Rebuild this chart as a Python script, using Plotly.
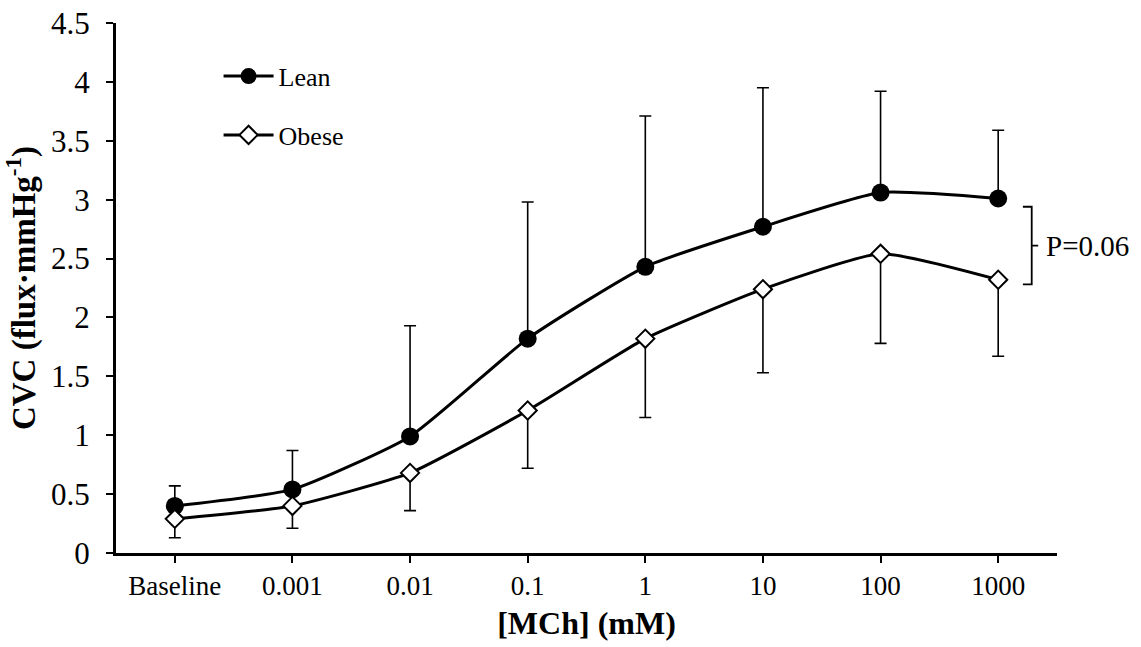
import plotly.graph_objects as go

categories = ["Baseline", "0.001", "0.01", "0.1", "1", "10", "100", "1000"]
lean = [0.40, 0.54, 0.99, 1.82, 2.43, 2.77, 3.06, 3.01]
lean_upper = [0.57, 0.87, 1.93, 2.98, 3.71, 3.95, 3.92, 3.59]
obese = [0.29, 0.40, 0.68, 1.21, 1.82, 2.24, 2.54, 2.32]
obese_lower = [0.13, 0.21, 0.36, 0.72, 1.15, 1.53, 1.78, 1.67]

lean_err = [u - m for u, m in zip(lean_upper, lean)]
obese_err = [m - l for m, l in zip(obese, obese_lower)]
xs = list(range(len(categories)))

FONT = "Liberation Serif"

fig = go.Figure()
fig.add_trace(go.Scatter(
    x=xs, y=lean, name="Lean", legendgroup="a", mode="lines+markers",
    line=dict(color="black", width=3, shape="spline", smoothing=0.5),
    marker=dict(symbol="circle", size=18, color="black", line=dict(color="black", width=0)),
    error_y=dict(type="data", symmetric=False, array=lean_err, arrayminus=[0] * 8,
                 color="black", thickness=1.6, width=6),
))
fig.add_trace(go.Scatter(
    x=xs, y=obese, name="Obese", legendgroup="b", mode="lines+markers",
    line=dict(color="black", width=3, shape="spline", smoothing=0.5),
    marker=dict(symbol="diamond", size=14, color="white", line=dict(color="black", width=2)),
    error_y=dict(type="data", symmetric=False, array=[0] * 8, arrayminus=obese_err,
                 color="black", thickness=1.6, width=6),
))

# significance bracket
bx0, bx1, bx2 = 7.21, 7.285, 7.34
by_top, by_bot = 2.94, 2.28
by_mid = (by_top + by_bot) / 2
fig.add_shape(type="path", xref="x", yref="y",
              path=f"M {bx0} {by_top} L {bx1} {by_top} L {bx1} {by_bot} L {bx0} {by_bot} "
                   f"M {bx1} {by_mid} L {bx2} {by_mid}",
              line=dict(color="black", width=1.8))
fig.add_annotation(x=bx2, y=by_mid, xref="x", yref="y", text="P=0.06", showarrow=False,
                   xanchor="left", yanchor="middle", xshift=6,
                   font=dict(family=FONT, size=29, color="black"))

fig.update_layout(
    width=1141, height=647,
    margin=dict(l=116, r=84, t=23, b=94),
    paper_bgcolor="white", plot_bgcolor="white",
    font=dict(family=FONT, color="black"),
    showlegend=True,
    legend=dict(x=0.109, y=0.944, xanchor="left", yanchor="top",
                font=dict(family=FONT, size=26, color="black"),
                bgcolor="rgba(0,0,0,0)", tracegroupgap=22, itemwidth=50),
    xaxis=dict(
        range=[-0.5, 7.5], tickmode="array", tickvals=xs, ticktext=categories,
        showline=True, linecolor="black", linewidth=3, showgrid=False, zeroline=False,
        ticks="outside", ticklen=7, tickwidth=2, tickcolor="black", automargin=False,
        tickfont=dict(family=FONT, size=27, color="black"),
        title=dict(text="<b>[MCh] (mM)</b>", font=dict(family=FONT, size=32, color="black"), standoff=12),
    ),
    yaxis=dict(
        range=[0, 4.5], tickmode="array", tickvals=[0, 0.5, 1, 1.5, 2, 2.5, 3, 3.5, 4, 4.5],
        ticktext=["0", "0.5", "1", "1.5", "2", "2.5", "3", "3.5", "4", "4.5"],
        showline=True, linecolor="black", linewidth=3, showgrid=False, zeroline=False,
        ticks="outside", ticklen=7, tickwidth=2, tickcolor="black", automargin=False,
        ticklabelstandoff=10,
        tickfont=dict(family=FONT, size=31, color="black"),
        title=dict(text="<b>CVC (flux·mmHg<sup>-1</sup>)</b>", font=dict(family=FONT, size=33, color="black"), standoff=8),
    ),
)

fig.write_html("out.html")
